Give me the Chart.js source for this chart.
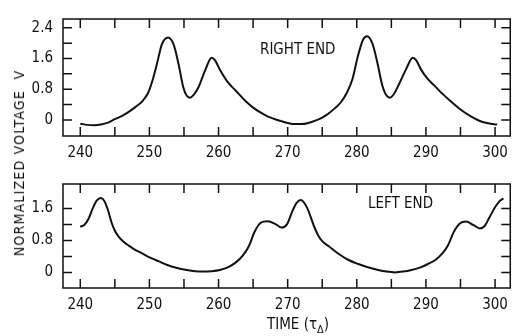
<!DOCTYPE html>
<html lang="en">

<head>
    <meta charset="UTF-8" />
    <title>Normalized voltage, right end and left end</title>
    <script src="https://cdn.jsdelivr.net/npm/chart.js"></script>
    <style>
        body {
            margin: 0;
            background: #fff;
            font-family: "DejaVu Sans Condensed", "DejaVu Sans", sans-serif;
            color: #111;
        }

        .page {
            position: relative;
            width: 516px;
            height: 336px;
            overflow: hidden;
        }

        canvas {
            position: absolute;
            left: 0;
        }

        .label {
            position: absolute;
            font-size: 15px;
            white-space: pre;
            line-height: 1;
        }

        .ytitle {
            left: 19px;
            top: 163px;
            font-size: 14px;
            letter-spacing: 1.2px;
            transform: translate(-50%, -50%) rotate(-90deg);
        }
    </style>
</head>

<body>
    <div class="page">
        <canvas id="top" width="516" height="165" style="top:0;width:516px;height:165px"></canvas>
        <canvas id="bottom" width="516" height="171" style="top:165px;width:516px;height:171px"></canvas>

        <div class="label ytitle">NORMALIZED VOLTAGE  V</div>
        <div class="label" style="left:260px;top:42px">RIGHT END</div>
        <div class="label" style="left:368px;top:196px">LEFT END</div>
        <div class="label" style="left:267px;top:317px">TIME (τ<sub style="font-size:11px">Δ</sub>)</div>
    </div>

    <script>
        // valores (tiempo en unidades de tau_delta)
        const rightTime = [240, 241, 242, 243, 244, 245, 246, 247, 248, 249, 249.8, 250.4, 251.1, 251.8, 252.7,
            253.5, 254.2, 254.9, 255.4, 255.9, 256.4, 257.1, 258.1, 259, 259.5, 260.2, 261.4, 262.5, 263.9, 265,
            266, 267, 268, 269, 270, 271, 272, 273, 274, 275, 275.8, 276.8, 277.7, 278.6, 279.4, 280.1, 280.9,
            281.5, 282.3, 283, 283.7, 284.2, 284.8, 285.4, 286.1, 287.1, 288.1, 288.6, 289.3, 290.2, 291.2, 292.1,
            293.5, 295, 296.5, 297.8, 299, 300.3];
        const rightVolt = [-0.10, -0.13, -0.14, -0.12, -0.07, 0.02, 0.10, 0.21, 0.34, 0.49, 0.70, 1.00, 1.47, 1.97,
            2.15, 1.97, 1.47, 0.85, 0.63, 0.58, 0.65, 0.85, 1.31, 1.62, 1.55, 1.31, 0.97, 0.76, 0.49, 0.32, 0.20,
            0.10, 0.03, -0.03, -0.08, -0.11, -0.11, -0.08, -0.02, 0.06, 0.15, 0.30, 0.46, 0.72, 1.08, 1.62, 2.09,
            2.18, 1.97, 1.47, 0.89, 0.66, 0.58, 0.68, 0.93, 1.31, 1.62, 1.55, 1.31, 1.08, 0.90, 0.73, 0.50, 0.27,
            0.09, -0.03, -0.09, -0.12];

        const leftTime = [240, 240.6, 241.2, 241.8, 242.4, 243, 243.5, 244, 244.5, 245, 245.6, 246.3, 247, 247.7,
            249, 250.1, 251.3, 252.5, 254, 255.4, 256.6, 257.8, 259, 260.2, 261.4, 262.5, 263.5, 264.4, 265.2,
            266.1, 267.1, 268.3, 269.1, 269.9, 270.7, 271.3, 271.9, 272.8, 273.8, 274.4, 275, 275.9, 277.4, 278.8,
            280.2, 281.6, 283.1, 284.3, 285.5, 286.7, 287.9, 289.1, 290.3, 291.5, 292.4, 293.2, 294, 294.9, 295.8,
            296.9, 297.8, 298.5, 299.2, 300, 300.6, 301.2];
        const leftVolt = [1.14, 1.19, 1.34, 1.60, 1.80, 1.86, 1.78, 1.56, 1.26, 1.04, 0.88, 0.76, 0.67, 0.59, 0.47,
            0.37, 0.28, 0.19, 0.11, 0.06, 0.03, 0.02, 0.03, 0.06, 0.13, 0.25, 0.42, 0.66, 1.01, 1.24, 1.28, 1.20,
            1.12, 1.20, 1.54, 1.74, 1.81, 1.62, 1.16, 0.93, 0.78, 0.66, 0.46, 0.31, 0.21, 0.13, 0.06, 0.02, 0.0,
            0.02, 0.06, 0.12, 0.21, 0.33, 0.48, 0.68, 1.00, 1.22, 1.27, 1.18, 1.10, 1.16, 1.38, 1.63, 1.77, 1.85];

        const xTicks = [240, 250, 260, 270, 280, 290, 300];
        const topYTicks = [0, 0.8, 1.6, 2.4];
        const bottomYTicks = [0, 0.8, 1.6];

        const ink = '#111';
        const tickFont = {
            family: '"DejaVu Sans Condensed", "DejaVu Sans", sans-serif',
            size: 15
        };

        // marco y marcas hacia dentro en los cuatro lados
        const frame = {
            id: 'frame',
            afterDatasetsDraw(chart, args, opts) {
                const { ctx, chartArea: a, scales: { x, y } } = chart;
                ctx.save();
                ctx.strokeStyle = ink;
                ctx.lineWidth = 1.5;
                ctx.strokeRect(a.left, a.top, a.right - a.left, a.bottom - a.top);
                ctx.beginPath();
                for (let t = 240; t <= 300; t += 5) {
                    const px = x.getPixelForValue(t);
                    ctx.moveTo(px, a.top); ctx.lineTo(px, a.top + 9);
                    ctx.moveTo(px, a.bottom); ctx.lineTo(px, a.bottom - 9);
                }
                for (let i = 0; i * 0.4 <= opts.yTop + 1e-6; i++) {
                    const py = y.getPixelForValue(i * 0.4);
                    ctx.moveTo(a.left, py); ctx.lineTo(a.left + 9, py);
                    ctx.moveTo(a.right, py); ctx.lineTo(a.right - 9, py);
                }
                ctx.stroke();
                ctx.restore();
            }
        };

        function makeChart(id, times, volts, yMin, yMax, yTicks, padTop, xHeight) {
            new Chart(document.getElementById(id), {
                type: 'line',
                data: {
                    datasets: [{
                        data: times.map((t, i) => ({ x: t, y: volts[i] })),
                        borderColor: ink,
                        borderWidth: 2,
                        pointRadius: 0,
                        fill: false,
                        cubicInterpolationMode: 'monotone'
                    }]
                },
                options: {
                    responsive: false,
                    animation: false,
                    layout: { padding: { top: padTop, right: 2, left: 0, bottom: 0 } },
                    plugins: {
                        legend: { display: false },
                        tooltip: { enabled: false },
                        frame: { yTop: yTicks[yTicks.length - 1] + 0.01 }
                    },
                    scales: {
                        x: {
                            type: 'linear',
                            min: 237.5,
                            max: 302.2,
                            grid: { display: false, drawTicks: false },
                            border: { display: false },
                            afterBuildTicks: s => { s.ticks = xTicks.map(v => ({ value: v })); },
                            afterFit: s => { s.height = xHeight; },
                            ticks: { color: ink, font: tickFont, padding: 8, maxRotation: 0, callback: v => String(v) }
                        },
                        y: {
                            min: yMin,
                            max: yMax,
                            grid: { display: false, drawTicks: false },
                            border: { display: false },
                            afterBuildTicks: s => { s.ticks = yTicks.map(v => ({ value: v })); },
                            afterFit: s => { s.width = 63; },
                            ticks: { color: ink, font: tickFont, padding: 10, callback: v => String(v) }
                        }
                    }
                },
                plugins: [frame]
            });
        }

        makeChart('top', rightTime, rightVolt, -0.42, 2.63, topYTicks, 5, 29);
        makeChart('bottom', leftTime, leftVolt, -0.39, 2.21, bottomYTicks, 9, 48);
    </script>
</body>

</html>
